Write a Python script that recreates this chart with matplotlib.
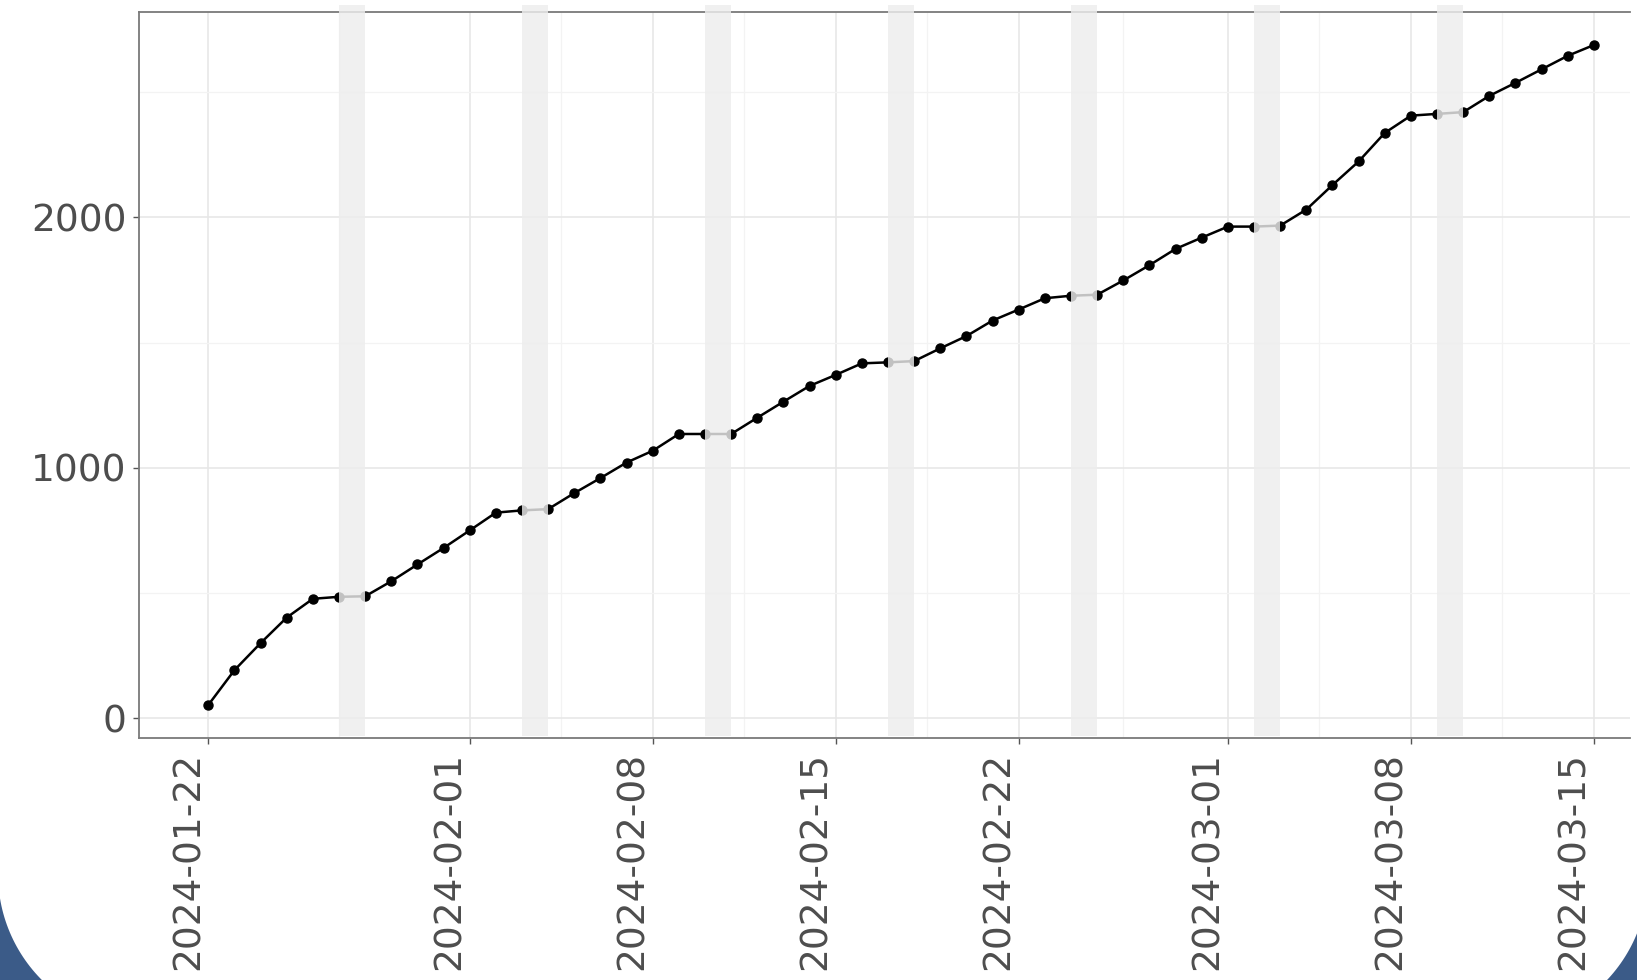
import numpy as np
import pandas as pd
import matplotlib
matplotlib.use("Agg")
from matplotlib import pyplot as plt
import matplotlib.dates as mdates
import matplotlib.transforms as mtransforms
from matplotlib.patches import Polygon

# total acumulado por dia
dias = pd.date_range("2024-01-22", "2024-03-15", freq="D")
acumulado = [53, 192, 300, 402, 477, 485, 487, 547, 614, 680, 750, 821,
             830, 835, 899, 959, 1021, 1068, 1135, 1135, 1135, 1200, 1264,
             1327, 1371, 1417, 1421, 1426, 1477, 1526, 1588, 1632, 1677,
             1687, 1691, 1748, 1809, 1874, 1919, 1963, 1963, 1967, 2031,
             2129, 2223, 2337, 2406, 2413, 2420, 2485, 2537, 2591, 2645,
             2688]
fechas_ticks = ["2024-01-22", "2024-02-01", "2024-02-08", "2024-02-15",
                "2024-02-22", "2024-03-01", "2024-03-08", "2024-03-15"]
y_ticks = [0, 1000, 2000]

gris_texto = "#4d4d4d"
azul = "#3b5b88"

W, H = 1637, 980
fig = plt.figure(figsize=(W / 100, H / 100), dpi=100, facecolor="white")


def esquina(cx, cy, r, t0, t1, punta):
    # cuarto de circulo azul en una esquina (pixeles, y hacia abajo)
    t = np.radians(np.linspace(t0, t1, 60))
    pts = [(cx + r * np.cos(a), H - (cy + r * np.sin(a))) for a in t]
    pts.append((punta[0], H - punta[1]))
    fig.add_artist(Polygon(pts, closed=True, facecolor=azul, edgecolor="none",
                           transform=mtransforms.IdentityTransform(), zorder=0))


esquina(148, 874, 150, 90, 180, (-2, 1024))
esquina(1498, 877, 150, 0, 90, (1648, 1027))

ax = fig.add_axes([139 / W, 1 - 738 / H, (1630 - 139) / W, (738 - 12) / H])
ax.set_facecolor("white")

x = mdates.date2num(dias)
ax.plot(x, acumulado, color="black", lw=1.8, marker="o", ms=6.5, zorder=2)

# fines de semana
for d in dias:
    if d.weekday() == 5:
        ax.axvspan(mdates.date2num(d), mdates.date2num(d + pd.Timedelta(days=1)),
                   ymin=0.003, ymax=1.01, color="#ededed", alpha=0.82,
                   lw=0, zorder=3, clip_on=False)

# limites con 5% de margen
rx = x[-1] - x[0]
ax.set_xlim(x[0] - 0.05 * rx, x[-1] + 1.38)
ry = max(acumulado) - min(acumulado)
ax.set_ylim(min(acumulado) - 0.05 * ry, max(acumulado) + 0.05 * ry)

tx = mdates.date2num(pd.to_datetime(fechas_ticks))
ax.set_xticks(tx)
ax.set_xticklabels(fechas_ticks, rotation=90)
ax.set_xticks((tx[:-1] + tx[1:]) / 2, minor=True)
ax.set_yticks(y_ticks)
ax.set_yticks([500, 1500, 2500], minor=True)

ax.grid(True, which="major", color="#e6e6e6", lw=1.1)
ax.grid(True, which="minor", color="#f3f3f3", lw=0.9)
ax.set_axisbelow(True)

ax.tick_params(which="major", length=4, width=1, color="#555555",
               labelsize=27, labelcolor=gris_texto)
ax.tick_params(axis="y", pad=5)
ax.tick_params(axis="x", pad=6)
ax.tick_params(which="minor", length=0)

desplaza = mtransforms.ScaledTranslation(-0.2, 0, fig.dpi_scale_trans)
for etiqueta in ax.get_xticklabels():
    etiqueta.set_transform(etiqueta.get_transform() + desplaza)

for lado in ["left", "top", "bottom"]:
    ax.spines[lado].set_color("#7a7a7a")
    ax.spines[lado].set_linewidth(1.3)
ax.spines["right"].set_visible(False)

fig.savefig("out.png", dpi=100)
